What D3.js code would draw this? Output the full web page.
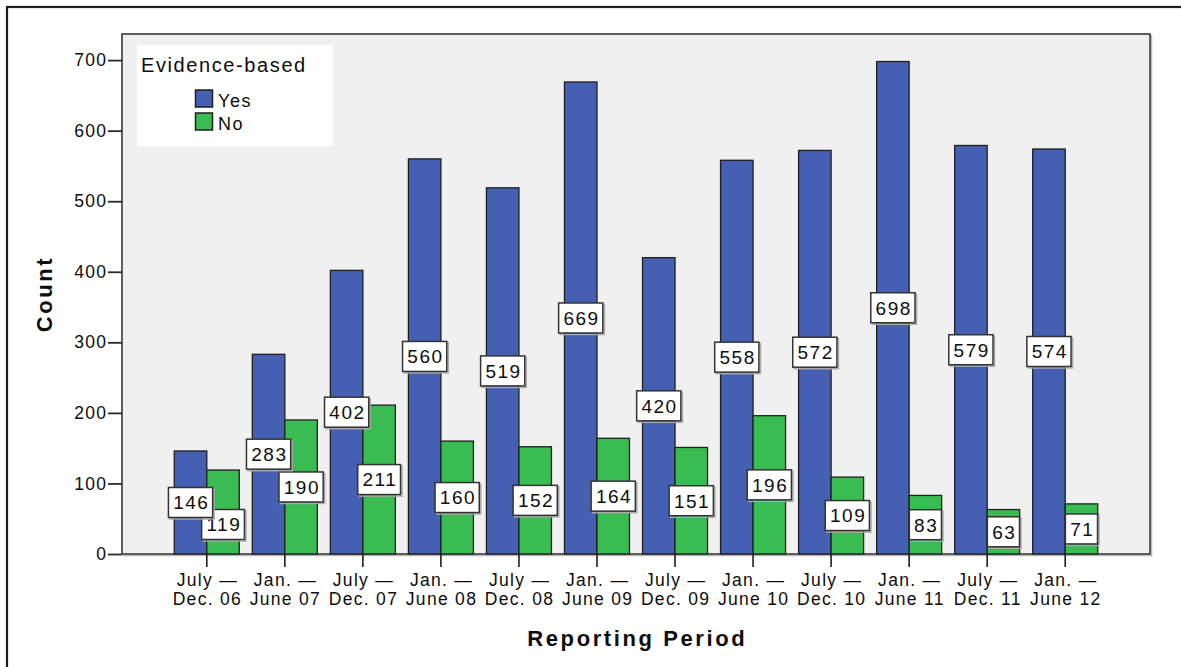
<!DOCTYPE html>
<html>
<head>
<meta charset="utf-8">
<script src="https://cdn.jsdelivr.net/npm/d3@7"></script>
<style>
    body { margin: 0; background: #fff; }
    svg { display: block; font-family: "Liberation Sans", Arial, sans-serif; }
</style>
</head>
<body>
<div id="chart"></div>
<script>
// reporting periods, split in two lines as on the axis
const periodStart = ["July \u2014", "Jan. \u2014", "July \u2014", "Jan. \u2014", "July \u2014", "Jan. \u2014",
    "July \u2014", "Jan. \u2014", "July \u2014", "Jan. \u2014", "July \u2014", "Jan. \u2014"];
const periodEnd = ["Dec. 06", "June 07", "Dec. 07", "June 08", "Dec. 08", "June 09",
    "Dec. 09", "June 10", "Dec. 10", "June 11", "Dec. 11", "June 12"];
const categories = periodStart.map(function (s, i) { return s + " " + periodEnd[i]; });

const series = ["Yes", "No"];
const yesCounts = [146, 283, 402, 560, 519, 669, 420, 558, 572, 698, 579, 574];
const noCounts = [119, 190, 211, 160, 152, 164, 151, 196, 109, 83, 63, 71];
const yTicks = [0, 100, 200, 300, 400, 500, 600, 700];

const colors = {Yes: "#4560b3", No: "#39bd52"};

function draw() {
    const w = 1181;
    const h = 667;
    const left = 122, right = 1150, top = 34, bottom = 554;

    const svg = d3.select("#chart").append("svg")
        .attr("width", w)
        .attr("height", h);

    // outer frame
    svg.append("rect")
        .attr("x", 7).attr("y", 7)
        .attr("width", w + 20).attr("height", h + 20)
        .attr("fill", "#fff")
        .attr("stroke", "#1e1e1e")
        .attr("stroke-width", 2.2);

    const x0 = d3.scaleBand()
        .domain(categories)
        .range([left, right])
        .paddingInner(0.167)
        .paddingOuter(0.67);

    const x1 = d3.scaleBand()
        .domain(series)
        .range([0, x0.bandwidth()]);

    const y = d3.scaleLinear()
        .domain([0, 737])
        .range([bottom, top]);

    // plot background with light shadow
    svg.append("rect")
        .attr("x", left + 1.5).attr("y", top + 1.5)
        .attr("width", right - left).attr("height", bottom - top)
        .attr("fill", "none")
        .attr("stroke", "#b8b8b8")
        .attr("stroke-width", 1.5);
    svg.append("rect")
        .attr("x", left).attr("y", top)
        .attr("width", right - left).attr("height", bottom - top)
        .attr("fill", "#f0f0f0")
        .attr("stroke", "#3a3a3a")
        .attr("stroke-width", 1.6);

    let rows = [];
    for (let i = 0; i < categories.length; i++) {
        rows.push({cat: categories[i], key: "Yes", value: yesCounts[i], idx: i});
        rows.push({cat: categories[i], key: "No", value: noCounts[i], idx: i});
    }

    svg.append("g").selectAll("rect")
        .data(rows)
        .enter()
        .append("rect")
        .attr("x", function (d) { return x0(d.cat) + x1(d.key); })
        .attr("y", function (d) { return y(d.value); })
        .attr("width", x1.bandwidth())
        .attr("height", function (d) { return y(0) - y(d.value); })
        .attr("fill", function (d) { return colors[d.key]; })
        .attr("stroke", "#1f1f1f")
        .attr("stroke-width", 1.3);

    // x axis
    const xAxis = d3.axisBottom(x0).tickSize(13).tickFormat("");
    const gx = svg.append("g")
        .attr("transform", "translate(0," + bottom + ")")
        .call(xAxis);
    gx.select(".domain").remove();
    gx.selectAll(".tick line").attr("stroke", "#1f1f1f").attr("stroke-width", 1.6);
    gx.selectAll(".tick").each(function (d, i) {
        const t = d3.select(this).append("text")
            .attr("fill", "#0d0d0d")
            .attr("text-anchor", "middle")
            .style("font-size", "17.5px")
            .style("letter-spacing", "1.3px");
        t.append("tspan").attr("x", 0.6).attr("y", 32).text(periodStart[i]);
        t.append("tspan").attr("x", 0.6).attr("y", 50.5).text(periodEnd[i]);
    });

    // y axis
    const yAxis = d3.axisLeft(y).tickValues(yTicks).tickSize(14).tickPadding(2);
    const gy = svg.append("g")
        .attr("transform", "translate(" + left + ",0)")
        .call(yAxis);
    gy.select(".domain").remove();
    gy.selectAll(".tick line").attr("stroke", "#2a2a2a").attr("stroke-width", 1.8);
    gy.selectAll(".tick text")
        .attr("fill", "#0d0d0d")
        .attr("dx", 1.3)
        .style("font-size", "17.5px")
        .style("letter-spacing", "1.3px")
        .style("font-family", "'Liberation Sans', Arial, sans-serif");

    // value labels
    const boxH = 30;
    let labels = [];
    for (let i = 0; i < categories.length; i++) {
        let pair = [];
        series.forEach(function (key) {
            const v = key === "Yes" ? yesCounts[i] : noCounts[i];
            const cx = x0(categories[i]) + x1(key) + x1.bandwidth() / 2;
            let cy = (y(v) + y(0)) / 2;
            pair.push({cx: cx, cy: cy, value: v});
        });
        // push the lower label down when the two boxes collide
        if (Math.abs(pair[0].cy - pair[1].cy) < boxH - 8) {
            if (pair[1].cy >= pair[0].cy) {
                pair[1].cy = pair[0].cy + boxH - 8;
            } else {
                pair[0].cy = pair[1].cy + boxH - 8;
            }
        }
        pair.forEach(function (p) {
            p.cy = Math.min(p.cy, y(0) - boxH / 2 - 4);
        });
        labels.push(pair[1]);
        labels.push(pair[0]);
    }

    const lab = svg.append("g").selectAll("g")
        .data(labels)
        .enter()
        .append("g")
        .attr("transform", function (d) { return "translate(" + d.cx + "," + d.cy + ")"; });

    lab.append("text")
        .attr("text-anchor", "middle")
        .attr("dx", 0.8)
        .attr("y", 6.8)
        .attr("fill", "#0d0d0d")
        .style("font-size", "19px")
        .style("letter-spacing", "1.5px")
        .text(function (d) { return d.value; });

    lab.each(function () {
        const g = d3.select(this);
        const bw = g.select("text").node().getComputedTextLength() + 8;
        g.insert("rect", "text")
            .attr("x", -bw / 2 + 1.5).attr("y", -boxH / 2 + 1.5)
            .attr("width", bw).attr("height", boxH)
            .attr("fill", "none")
            .attr("stroke", "#aaa")
            .attr("stroke-width", 1.5);
        g.insert("rect", "text")
            .attr("x", -bw / 2).attr("y", -boxH / 2)
            .attr("width", bw).attr("height", boxH)
            .attr("fill", "#fff")
            .attr("stroke", "#333")
            .attr("stroke-width", 1.5);
    });

    // legend
    const legend = svg.append("g");
    legend.append("rect")
        .attr("x", 137).attr("y", 45)
        .attr("width", 196).attr("height", 101)
        .attr("fill", "#fff");
    legend.append("text")
        .attr("x", 141).attr("y", 71.5)
        .attr("fill", "#0d0d0d")
        .style("font-size", "20px")
        .style("letter-spacing", "1.6px")
        .text("Evidence-based");
    series.forEach(function (key, i) {
        legend.append("rect")
            .attr("x", 195.5).attr("y", 90 + i * 23)
            .attr("width", 17).attr("height", 17)
            .attr("fill", colors[key])
            .attr("stroke", "#1f1f1f")
            .attr("stroke-width", 1.5);
        legend.append("text")
            .attr("x", 218).attr("y", 106.5 + i * 23)
            .attr("fill", "#0d0d0d")
            .style("font-size", "18px")
            .style("letter-spacing", "1.6px")
            .text(key);
    });

    // axis titles
    svg.append("text")
        .attr("x", (left + right) / 2 + 1.3)
        .attr("y", 646)
        .attr("text-anchor", "middle")
        .attr("fill", "#0d0d0d")
        .style("font-size", "22px")
        .style("font-weight", "bold")
        .style("letter-spacing", "2.6px")
        .text("Reporting Period");

    svg.append("text")
        .attr("transform", "translate(52," + ((top + bottom) / 2) + ") rotate(-90)")
        .attr("text-anchor", "middle")
        .attr("fill", "#0d0d0d")
        .style("font-size", "22px")
        .style("font-weight", "bold")
        .style("letter-spacing", "2.6px")
        .text("Count");
}

window.onload = draw;
</script>
</body>
</html>
